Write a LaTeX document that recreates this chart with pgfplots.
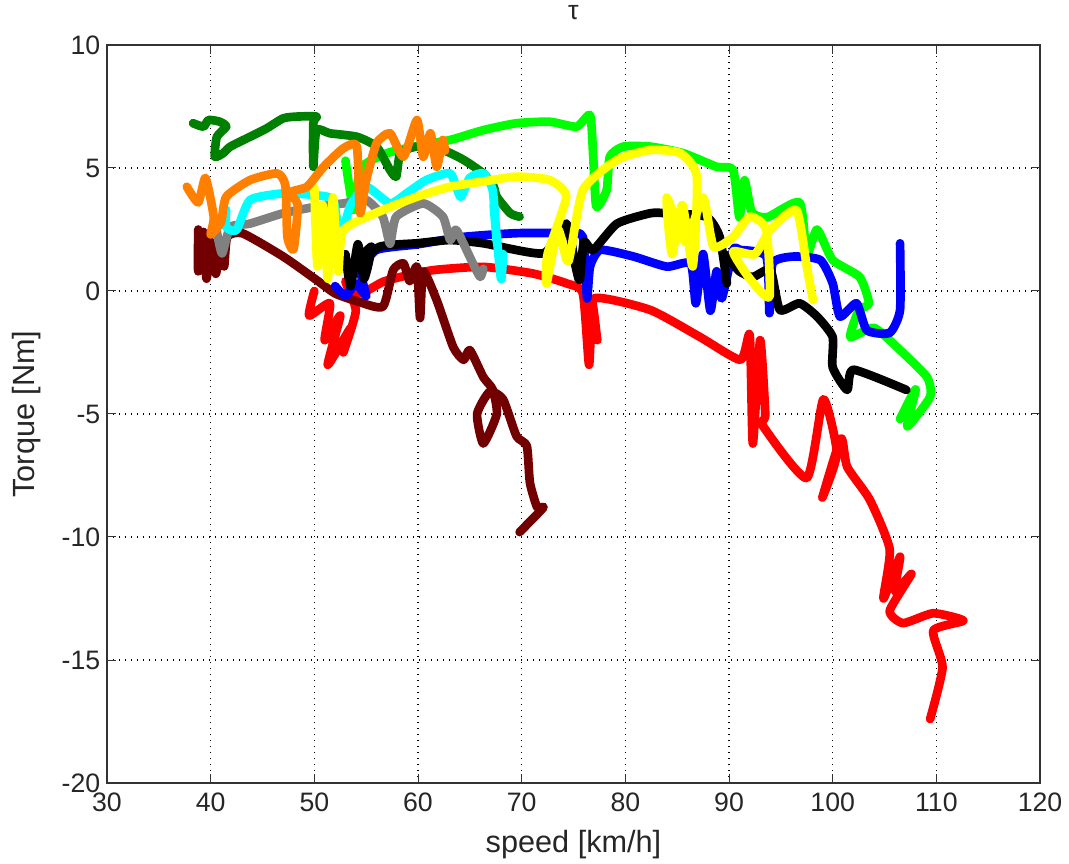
\documentclass[border=0pt]{standalone}
\usepackage{pgfplots}
\pgfplotsset{compat=1.18}
\usepackage{fontspec}
\setmainfont{Liberation Sans}
\definecolor{dgreen}{rgb}{0,0.5,0}
\definecolor{maroon}{rgb}{0.45,0,0}
\definecolor{morange}{rgb}{1,0.5,0}
\definecolor{mgray}{rgb}{0.5,0.5,0.5}
\definecolor{mcyan}{rgb}{0,1,1}
\definecolor{myellow}{rgb}{1,1,0}
\definecolor{mgreen}{rgb}{0,1,0}
\definecolor{mblue}{rgb}{0,0,1}
\definecolor{mred}{rgb}{1,0,0}
\begin{document}
\begin{tikzpicture}
\path[use as bounding box] (-80.25pt,-60pt) rectangle (721.5pt,587.25pt);
\begin{axis}[
  at={(0,0)}, anchor=south west,
  scale only axis, width=699.75pt, height=553.5pt,
  xmin=30, xmax=120, ymin=-20, ymax=10,
  xtick={30,40,...,120}, ytick={-20,-15,...,10},
  /pgf/number format/assume math mode=true,
  tick label style={font=\fontsize{20}{24}\selectfont, text=black!85},
  xticklabel style={yshift=-4pt},
  yticklabel style={xshift=-1.5pt},
  tick align=inside, major tick length=7pt,
  tick style={black!80, line width=0.75pt},
  axis line style={black!80, line width=0.9pt},
  grid=major,
  grid style={black, line width=0.9pt, dash pattern=on 0.9pt off 3.6pt},
  xlabel={speed [km/h]}, ylabel={Torque [Nm]},
  label style={font=\fontsize{23}{27}\selectfont, text=black!85},
  xlabel style={at={(axis description cs:0.5,-0.084)}, anchor=center},
  ylabel style={at={(axis description cs:-0.0857,0.5)}, anchor=center},
  clip=false,
  every axis plot/.append style={line width=6.5pt, line join=round, line cap=round, no markers, smooth, tension=0.35},
]
\node[font=\fontsize{20}{24}\selectfont, text=black!85] at (axis description cs:0.5,1.0434) {τ};
% red
\addplot[mred] coordinates {(50.0,0.0)(49.5,-1.0)(51.5,-0.5)(51.0,-2.0)(52.5,-1.0)(51.3,-3.0)(53.5,-1.5)(52.8,-2.5)(54.0,-0.8)(53.0,0.4)(54.4,-0.1)(56.6,0.37)(58.3,0.57)(61.5,0.85)(66.3,0.98)(71.1,0.71)(74.4,0.3)(75.9,-0.1)(76.5,-3.0)(76.8,-0.5)(77.3,-2.0)(77.0,-0.3)(82.4,-0.77)(87.2,-1.87)(91.1,-2.8)(92.0,-1.8)(92.3,-6.2)(93.0,-2.0)(93.5,-5.0)(93.3,-5.5)(97.5,-7.6)(99.1,-4.4)(100.4,-6.6)(99.0,-8.4)(100.8,-6.0)(101.4,-7.15)(103.6,-8.5)(105.5,-10.5)(104.9,-12.5)(106.5,-10.8)(106.0,-12.2)(107.6,-11.5)(105.5,-13.0)(106.8,-13.5)(109.7,-13.1)(112.6,-13.4)(109.7,-13.8)(110.6,-15.3)(109.4,-17.4)};
% maroon
\addplot[maroon] coordinates {(38.8,2.5)(38.8,0.8)(39.3,2.4)(39.6,0.5)(40.0,2.0)(40.5,0.7)(41.0,2.0)(41.3,1.0)(41.6,2.2)(43.1,2.34)(47.0,1.4)(50.2,0.45)(52.0,-0.1)(54.0,-0.4)(56.6,-0.64)(57.6,0.85)(58.6,1.12)(59.2,0.4)(59.9,0.98)(60.2,-1.1)(60.5,0.8)(61.8,-0.37)(63.4,-2.28)(64.4,-2.8)(65.0,-2.4)(66.3,-3.5)(67.2,-4.0)(67.6,-5.0)(66.3,-6.2)(65.7,-5.0)(66.9,-4.1)(68.2,-4.4)(69.5,-5.9)(70.5,-6.3)(70.8,-7.8)(71.5,-8.8)(72.1,-8.8)(69.8,-9.8)};
% bright green
\addplot[mgreen] coordinates {(53.0,5.3)(53.8,3.3)(54.5,5.0)(57,5.6)(60,5.9)(63.1,6.14)(66.3,6.54)(69.5,6.82)(72.7,6.88)(75.3,6.68)(76.6,7.15)(76.9,5.46)(77.2,3.43)(78.2,4.11)(78.5,5.46)(79.8,5.87)(82.4,5.87)(85.6,5.6)(88.8,5.05)(90.4,4.92)(91,3.0)(91.5,4.5)(92.2,3.2)(93.7,3.0)(96.8,3.6)(97.5,1.5)(98.5,2.5)(100.0,1.26)(102.6,0.57)(103.5,-0.5)(102.5,-0.8)(101.7,-1.87)(104,-1.5)(106.5,-2.4)(109.1,-3.5)(109.4,-4.3)(107.2,-5.5)(108,-4)(106.5,-5.2)};
% dark green
\addplot[dgreen] coordinates {(38.3,6.82)(39.3,6.68)(39.8,6.95)(40.9,6.88)(41.5,6.68)(40.6,6.27)(40.4,5.46)(41.2,5.6)(41.9,5.87)(43.8,6.27)(45.4,6.61)(47.0,7.02)(48.3,7.09)(50.2,7.09)(49.9,6.82)(49.9,5.05)(50.2,6.54)(51.5,6.41)(54.1,6.27)(56.0,5.87)(57.3,4.92)(57.9,4.65)(58.3,5.6)(59.9,5.87)(62.4,5.73)(64.4,5.33)(66.3,4.78)(67.3,4.24)(67.6,3.83)(68.9,3.16)(69.8,3.02)};
% blue
\addplot[mblue] coordinates {(52.0,0.2)(53.0,-0.2)(54.0,0.3)(55.0,-0.2)(54.5,0.8)(56.0,1.67)(60,1.9)(64.4,2.2)(69.5,2.35)(74.3,2.35)(75.9,2.2)(76.3,-0.3)(76.6,1.0)(77.6,1.67)(80.8,1.4)(84.0,0.99)(86.3,1.12)(86.8,-0.5)(87.5,1.5)(88.2,-0.8)(88.8,0.8)(89.3,-0.3)(90.4,1.67)(91.1,1.67)(93.6,1.4)(93.9,-0.9)(94.2,1.12)(96.2,1.4)(98.8,1.26)(100.0,0.31)(100.7,-1.04)(102.3,-0.5)(103.3,-1.6)(105.5,-1.7)(106.5,-0.77)(106.5,1.94)};
% black
\addplot[black] coordinates {(53.0,1.5)(53.5,0.2)(54.2,1.9)(54.8,0.5)(55.5,1.8)(53.8,1.0)(56.3,1.8)(59.9,1.94)(63.1,2.07)(66.3,1.94)(72.1,1.53)(74.3,2.74)(75.2,1.0)(75.6,0.45)(76.0,2.0)(76.9,1.67)(79.2,2.74)(82.4,3.16)(84.0,3.16)(87.8,3.02)(89.1,2.2)(89.8,0.31)(89.5,1.5)(91.0,0.8)(92.3,0.57)(94.0,0.85)(94.9,-0.77)(96.8,-0.5)(98.5,-1.04)(100.0,-1.87)(100.0,-3.1)(101.4,-4.02)(102.0,-3.2)(107.1,-4.02)};
% gray
\addplot[mgray] coordinates {(40.6,2.4)(41.1,1.53)(41.9,2.6)(43.8,2.74)(47.0,3.16)(50.2,3.43)(52.8,3.56)(55.0,3.7)(56.6,3.02)(57.3,1.92)(57.9,3.02)(60.5,3.56)(62.4,3.02)(63.1,2.07)(63.7,2.48)(65.3,1.12)(66.0,0.57)(66.3,0.9)};
% cyan
\addplot[mcyan] coordinates {(41.5,3.3)(41.5,2.6)(42.5,2.48)(43.8,3.7)(47.0,3.97)(50,3.9)(51.8,3.7)(52.5,2.2)(53.5,3.5)(55.0,4.24)(57.3,3.56)(59,4.0)(60.8,4.51)(63.1,4.78)(64.1,3.83)(65,4.6)(66.3,4.78)(67.2,4.1)(67.6,2.0)(67.3,3.5)(68.0,0.5)(68.2,1.5)};
% yellow
\addplot[myellow] coordinates {(50.0,4.2)(50.3,1.0)(50.8,3.5)(51.3,0.5)(51.8,3.8)(52.3,0.8)(52.8,2.48)(56.6,3.29)(59.9,3.83)(63.1,4.24)(66.3,4.45)(69.5,4.65)(72.7,4.51)(74.3,3.83)(72.5,1.5)(72.4,0.3)(73.5,2.5)(74.5,1.2)(75.9,4.1)(79.2,5.33)(82.4,5.73)(85.3,5.6)(86.9,4.65)(86.5,1.0)(85.5,3.5)(84.5,1.5)(84.0,3.8)(85.8,2.0)(87.5,3.8)(88.5,1.8)(90.4,2.2)(92.0,3.02)(93.6,2.48)(93.9,-0.23)(92,0.5)(90.4,1.6)(92.5,1.5)(94,2.5)(96.5,3.29)(97.5,1.0)(98.1,-0.37)};
% orange
\addplot[morange] coordinates {(37.7,4.24)(38.8,3.6)(39.5,4.6)(40.3,3.0)(40.0,2.3)(41.0,2.8)(41.5,3.83)(43.8,4.51)(46.4,4.78)(47.2,4.3)(47.4,2.2)(48.0,1.7)(48.4,3.5)(47.6,4.0)(49.3,4.24)(50.9,5.05)(52.8,5.8)(54.1,5.87)(54.4,3.16)(55.0,4.5)(56.0,6.0)(57.3,6.41)(58.6,5.46)(59.9,6.95)(60.5,5.46)(61.2,6.41)(61.8,5.05)(62.4,6.14)(62.6,5.7)};
\end{axis}
\end{tikzpicture}
\end{document}
